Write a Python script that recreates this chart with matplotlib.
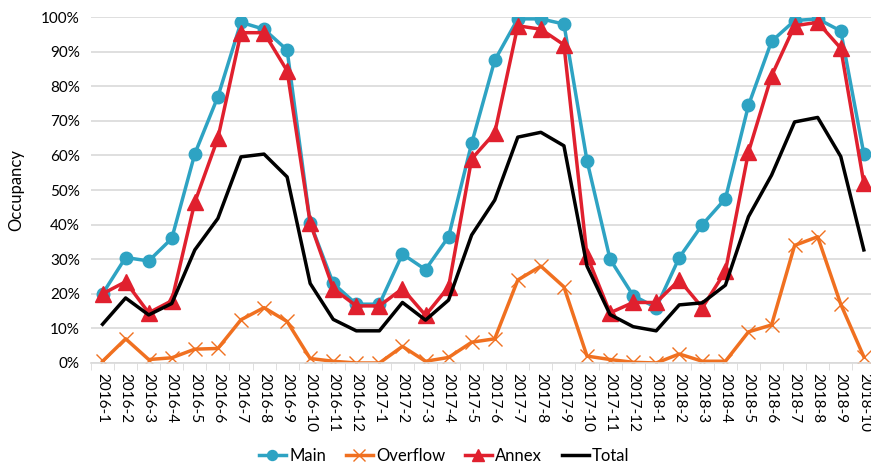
import matplotlib
matplotlib.use("Agg")
import matplotlib.pyplot as plt
from matplotlib.ticker import PercentFormatter, FixedLocator

plt.rcParams['font.family'] = ['Lato', 'DejaVu Sans']

months = ['2016-1', '2016-2', '2016-3', '2016-4', '2016-5', '2016-6', '2016-7', '2016-8',
          '2016-9', '2016-10', '2016-11', '2016-12', '2017-1', '2017-2', '2017-3', '2017-4',
          '2017-5', '2017-6', '2017-7', '2017-8', '2017-9', '2017-10', '2017-11', '2017-12',
          '2018-1', '2018-2', '2018-3', '2018-4', '2018-5', '2018-6', '2018-7', '2018-8',
          '2018-9', '2018-10']

main = [20, 30.5, 29.5, 36, 60.5, 77, 98.5, 96.5, 90.5, 40.5, 23, 17, 17, 31.5, 27, 36.5,
        63.5, 87.5, 99.5, 99.5, 98, 58.5, 30, 19.5, 16, 30.5, 40, 47.5, 74.5, 93, 99, 99.5,
        96, 60.5]
overflow = [0.5, 7, 1, 1.5, 4, 4.2, 12.5, 16, 12, 1.3, 0.5, 0, 0, 4.8, 0.5, 1.6, 6, 7,
            24, 28, 22, 2, 1, 0.2, 0, 2.6, 0.5, 0.5, 9, 11, 34, 36.5, 17, 1.8]
annex = [20, 23.5, 14.5, 18, 46.5, 65, 95.5, 95.5, 84.5, 40.5, 21.5, 16.5, 16.5, 21.5, 13.8,
         22, 59, 66.5, 97.5, 96.5, 92, 31, 14.5, 17.5, 17.5, 24, 16, 26.5, 61, 83, 97.5, 98.5,
         91, 52]
total = [11.2, 18.8, 13.9, 17.2, 32.7, 41.8, 59.6, 60.4, 53.8, 23, 12.6, 9.3, 9.3, 17.5, 12.4,
         18.2, 37, 47.1, 65.3, 66.7, 62.8, 28, 14, 10.5, 9.3, 16.8, 17.4, 22.5, 42.3, 54.3,
         69.7, 71, 59.7, 32.7]

x = range(len(months))

fig = plt.figure(figsize=(8.71, 4.63), dpi=100)
ax = fig.add_axes([0.1045, 0.216, 0.9005, 0.747])

ax.plot(x, main, color='#2ea3c3', lw=2.5, marker='o', ms=9, label='Main')
ax.plot(x, overflow, color='#f07020', lw=2.5, marker='x', ms=10, mew=1, label='Overflow')
ax.plot(x, annex, color='#e0202e', lw=2.5, marker='^', ms=11, label='Annex')
ax.plot(x, total, color='black', lw=2.5, label='Total')

ax.set_xlim(-0.5, len(months) - 0.5)
ax.set_ylim(0, 100)
ax.yaxis.set_major_locator(FixedLocator(range(0, 101, 10)))
ax.yaxis.set_major_formatter(PercentFormatter(decimals=0))
ax.set_xticks(list(x))
ax.set_xticklabels(months, rotation=-90, fontsize=11)
ax.xaxis.set_minor_locator(FixedLocator([i - 0.5 for i in range(len(months) + 1)]))
ax.tick_params(axis='x', which='major', length=0, pad=7)
ax.tick_params(axis='x', which='minor', length=5, color='#d9d9d9')
ax.tick_params(axis='y', length=0, labelsize=11, pad=8)
ax.set_ylabel('Occupancy', fontsize=12, labelpad=12)

ax.grid(axis='y', color='#d9d9d9', lw=1.2)
ax.set_axisbelow(True)
for s in ['top', 'right', 'left']:
    ax.spines[s].set_visible(False)
ax.spines['bottom'].set_color('#d9d9d9')
ax.spines['bottom'].set_linewidth(1.2)

fig.legend(loc='lower center', bbox_to_anchor=(0.51, -0.035), ncol=4, frameon=False,
           fontsize=12, handlelength=1.6, handletextpad=0.2, columnspacing=1.2,
           markerscale=0.8)

fig.savefig('out.png', dpi=100)
